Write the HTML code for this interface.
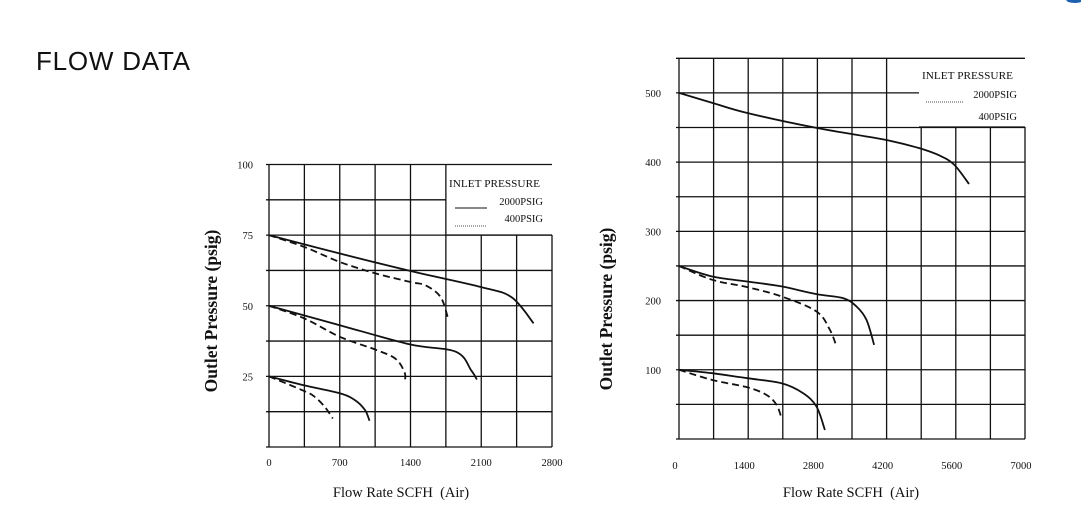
<!DOCTYPE html>
<html><head><meta charset="utf-8"><style>
html,body{margin:0;padding:0;background:#fff;}
svg{display:block;}
text{font-family:"Liberation Serif",serif;fill:#111;}
</style></head><body>
<svg width="1081" height="523" viewBox="0 0 1081 523">
<text x="36" y="70" style="font-family:'Liberation Sans',sans-serif;font-size:26px" textLength="154">FLOW DATA</text>
<path d="M1068,2 Q1076,4 1081,2 L1081,0 L1066,0 Z" fill="#1f5fb0"/>
<g id="left"></g>
<g id="right"></g>
</svg>
<script>
// Left chart data
const leftXTicks = [0, 700, 1400, 2100, 2800];
const leftYTicks = [25, 50, 75, 100];
const left75SolidX = [0, 700, 1400, 2100, 2400, 2618];
const left75SolidY = [75, 68.5, 62.3, 56.6, 53, 43.8];
const left75DashX = [0, 350, 700, 1050, 1400, 1550, 1700, 1776];
const left75DashY = [75, 70.8, 65.5, 61.5, 58.4, 57.2, 53, 44.9];
const left50SolidX = [0, 700, 1400, 1850, 2000, 2057];
const left50SolidY = [50, 43.1, 36.3, 33.7, 27.2, 23.9];
const left50DashX = [0, 350, 700, 1050, 1250, 1340, 1347];
const left50DashY = [50, 45.5, 39, 34.5, 31.3, 26.6, 23.7];
const left25SolidX = [0, 350, 700, 850, 950, 994];
const left25SolidY = [25, 21.8, 19, 16.6, 13.1, 9.3];
const left25DashX = [0, 350, 450, 550, 631];
const left25DashY = [25, 19.8, 17.8, 14.3, 10.1];
// Right chart data
const rightXTicks = [0, 1400, 2800, 4200, 5600, 7000];
const rightYTicks = [100, 200, 300, 400, 500];
const right500SolidX = [0, 674, 1381, 2782, 4157, 4844, 5275, 5565, 5868];
const right500SolidY = [500, 485.6, 471, 449.4, 432.5, 420.5, 409.4, 396.4, 368.4];
const right250SolidX = [0, 674, 1381, 2075, 2782, 3321, 3591, 3793, 3948];
const right250SolidY = [250, 234.8, 227.6, 220.4, 209.3, 203.5, 191.4, 172.1, 136];
const right250DashX = [0, 674, 1381, 2075, 2782, 3052, 3187];
const right250DashY = [250, 230, 219.4, 205.9, 184.2, 157.7, 133.6];
const right100SolidX = [0, 674, 1381, 2075, 2513, 2782, 2951];
const right100SolidY = [100, 95, 87.8, 80.5, 66, 46.8, 13];
const right100DashX = [0, 674, 1381, 1772, 1974, 2075];
const right100DashY = [100, 85.3, 74.7, 63.6, 49.2, 29.9];

const NS = "http://www.w3.org/2000/svg";
function mk(tag, attrs, parent){const e=document.createElementNS(NS,tag);for(const k in attrs)e.setAttribute(k,attrs[k]);parent.appendChild(e);return e;}
function smooth(pts){
  let d="M"+pts[0][0].toFixed(1)+","+pts[0][1].toFixed(1);
  for(let i=0;i<pts.length-1;i++){
    const p0=pts[Math.max(0,i-1)],p1=pts[i],p2=pts[i+1],p3=pts[Math.min(pts.length-1,i+2)];
    const c1=[p1[0]+(p2[0]-p0[0])/6,p1[1]+(p2[1]-p0[1])/6];
    const c2=[p2[0]-(p3[0]-p1[0])/6,p2[1]-(p3[1]-p1[1])/6];
    d+=" C"+c1[0].toFixed(1)+","+c1[1].toFixed(1)+" "+c2[0].toFixed(1)+","+c2[1].toFixed(1)+" "+p2[0].toFixed(1)+","+p2[1].toFixed(1);
  }
  return d;
}
function chart(g, cfg){
  const sx=v=>cfg.x0+(v-cfg.xmin)/(cfg.xmax-cfg.xmin)*(cfg.x1-cfg.x0);
  const sy=v=>cfg.y0-(v-cfg.ymin)/(cfg.ymax-cfg.ymin)*(cfg.y0-cfg.y1);
  const L=cfg.leg;
  for(let i=0;i<=cfg.nx;i++){
    const x=cfg.x0+i*(cfg.x1-cfg.x0)/cfg.nx;
    const top=(x>L.x0+1)?L.y1:cfg.y1;
    const ln=mk("line",{x1:x,y1:top,x2:x,y2:cfg.y0,stroke:"#111","stroke-width":1.3},g);
    
    
  }
  for(let j=0;j<=cfg.ny;j++){
    const y=cfg.y0-j*(cfg.y0-cfg.y1)/cfg.ny;
    const right=(y<L.y1-1&&j<cfg.ny)?L.x0:cfg.x1;
    const ln=mk("line",{x1:cfg.x0-3,y1:y,x2:right,y2:y,stroke:"#111","stroke-width":1.3},g);
    
    
  }
  const bx=mk("line",{x1:L.x0,y1:L.y1,x2:cfg.x1,y2:L.y1,stroke:"#111","stroke-width":1.3},g);
  
  
  cfg.xt.forEach(v=>{
    const t=mk("text",{x:sx(v)+cfg.xlo,y:cfg.y0+cfg.xly,"text-anchor":"middle","font-size":10.5},g);
    t.textContent=v;
    
    
  });
  cfg.yt.forEach(v=>{
    const t=mk("text",{x:cfg.ylx,y:sy(v)+4,"text-anchor":"end","font-size":10.5},g);
    t.textContent=v;
    
    
  });
  const yt=mk("text",{x:0,y:0,"text-anchor":"middle","font-size":17.5,"font-weight":"bold",transform:"translate("+cfg.ytx+","+cfg.yty+") rotate(-90)"},g);
  yt.textContent="Outlet Pressure (psig)";
  
  
  const xt=mk("text",{x:cfg.xtx,y:cfg.xty,"text-anchor":"middle","font-size":14.5},g);
  xt.textContent="Flow Rate SCFH\u00a0 (Air)";
  
  
  cfg.series.forEach(s=>{
    const pts=s.x.map((v,i)=>[sx(v),sy(s.y[i])]);
    const p=mk("path",{d:smooth(pts),fill:"none",stroke:"#111","stroke-width":1.8},g);
    if(s.dash)p.setAttribute("stroke-dasharray","7,4");
    
    
  });
  const lt=mk("text",{x:L.tx,y:L.ty,"font-size":10.5,textLength:91,lengthAdjust:"spacingAndGlyphs"},g);
  lt.textContent="INLET PRESSURE";
  
  
  L.items.forEach(it=>{
    const t=mk("text",{x:L.rx,y:it.ty,"text-anchor":"end","font-size":10.5},g);
    t.textContent=it.label;
    
    
    if(it.line){
      const l=mk("line",{x1:it.line[0],y1:it.line[2],x2:it.line[1],y2:it.line[2],stroke:"#111","stroke-width":it.dot?0.8:1},g);
      if(it.dot)l.setAttribute("stroke-dasharray","1,1");
      
      
    }
  });
}
chart(document.getElementById("left"),{
  x0:269,x1:552,y0:447,y1:164.5,xmin:0,xmax:2800,ymin:0,ymax:100,nx:8,ny:8,
  xt:leftXTicks,yt:leftYTicks,ylx:253,ytx:217,yty:311,xtx:401,xty:497,xlo:0,xly:19,
  leg:{x0:446,y1:235,tx:449,ty:187,rx:543,items:[
    {label:"2000PSIG",ty:205,line:[455,487,208]},
    {label:"400PSIG",ty:222,line:[455,487,226],dot:true}]},
  series:[
    {x:left75SolidX,y:left75SolidY,name:"curve-75-2000psig"},
    {x:left75DashX,y:left75DashY,dash:true,name:"curve-75-400psig"},
    {x:left50SolidX,y:left50SolidY,name:"curve-50-2000psig"},
    {x:left50DashX,y:left50DashY,dash:true,name:"curve-50-400psig"},
    {x:left25SolidX,y:left25SolidY,name:"curve-25-2000psig"},
    {x:left25DashX,y:left25DashY,dash:true,name:"curve-25-400psig"}]
});
chart(document.getElementById("right"),{
  x0:679,x1:1025,y0:439,y1:58.3,xmin:0,xmax:7000,ymin:0,ymax:550,nx:10,ny:11,
  xt:rightXTicks,yt:rightYTicks,ylx:661,ytx:612,yty:309,xtx:851,xty:497,xlo:-4,xly:30,
  leg:{x0:919,y1:127,tx:922,ty:79,rx:1017,items:[
    {label:"2000PSIG",ty:98,line:[926,963,102],dot:true},
    {label:"400PSIG",ty:120}]},
  series:[
    {x:right500SolidX,y:right500SolidY,name:"curve-500-2000psig"},
    {x:right250SolidX,y:right250SolidY,name:"curve-250-2000psig"},
    {x:right250DashX,y:right250DashY,dash:true,name:"curve-250-400psig"},
    {x:right100SolidX,y:right100SolidY,name:"curve-100-2000psig"},
    {x:right100DashX,y:right100DashY,dash:true,name:"curve-100-400psig"}]
});
</script>
</body></html>
